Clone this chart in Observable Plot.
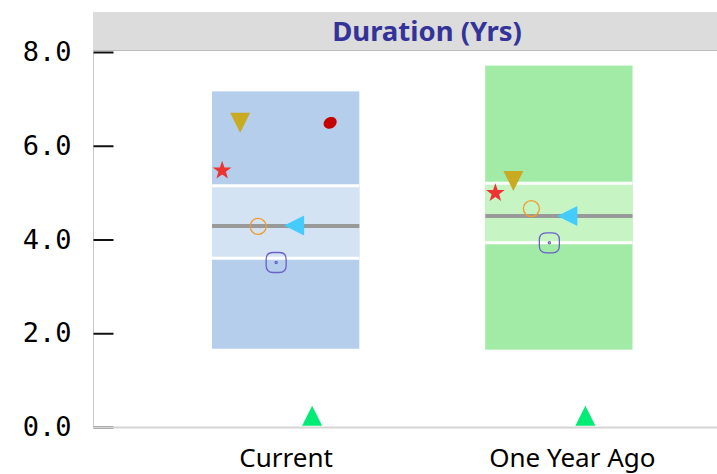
<!DOCTYPE html>
<html>
<head>
<meta charset="utf-8">
<script src="https://cdn.jsdelivr.net/npm/d3@7"></script>
<script src="https://cdn.jsdelivr.net/npm/@observablehq/plot@0.6"></script>
<style>
  body { margin: 0; background: #fff; }
  #wrap { position: relative; width: 717px; height: 474px; }
  #title {
    position: absolute; top: 12px; left: 93px; width: 580px; padding-left: 44px;
    height: 38px; line-height: 40px; background: #dcdcdc; border-bottom: 1px solid #bdbdbd;
    text-align: center; font: bold 27.5px "Noto Sans", sans-serif; color: #333399;
    white-space: nowrap; overflow: visible;
  }
</style>
</head>
<body>
<div id="wrap"></div>
<script>
// ---- data ----
const categories = ["Current", "One Year Ago"];
const boxLow = [1.67, 1.65];
const boxQ1 = [3.61, 3.94];
const boxMedian = [4.30, 4.51];
const boxQ3 = [5.16, 5.21];
const boxHigh = [7.16, 7.71];
const yTicks = [0, 2, 4, 6, 8];
const seriesStar = [5.50, 5.02];
const seriesDownTriangle = [6.50, 5.26];
const seriesCircle = [4.29, 4.67];
const seriesSquare = [3.52, 3.94];
const seriesLeftTriangle = [4.31, 4.51];
const seriesUpTriangle = [0.25, 0.25];
const seriesEllipse = [6.50, null];
const titleText = "Duration (Yrs)";

// ---- styles ----
const outerColors = ["#b4ceec", "#a2eba6"];
const innerColors = ["#d4e3f4", "#c6f4c2"];

const boxes = categories.map((c, i) => ({
  cat: c, low: boxLow[i], q1: boxQ1[i], median: boxMedian[i], q3: boxQ3[i], high: boxHigh[i],
  outer: outerColors[i], inner: innerColors[i]
}));

// ---- custom symbols ----
const poly = pts => ({draw(ctx) {
  ctx.moveTo(pts[0][0], pts[0][1]);
  for (let k = 1; k < pts.length; ++k) ctx.lineTo(pts[k][0], pts[k][1]);
  ctx.closePath();
}});
const symDown = poly([[-10, -10], [10, -10], [0, 10]]);
const symUp = poly([[0, -10], [10, 10], [-10, 10]]);
const symLeft = poly([[-10, 0], [10, -10], [10, 10]]);
const symStar = (() => {
  const R = 9.8, r = R * 0.4, shift = R * (1 - Math.cos(Math.PI / 5)) / 2;
  const pts = d3.range(10).map(k => {
    const a = -Math.PI / 2 + k * Math.PI / 5, rad = k % 2 ? r : R;
    return [rad * Math.cos(a), rad * Math.sin(a) + shift];
  });
  return poly(pts);
})();
const symEllipse = (() => {
  const rx = 6.8, ry = 5.6, t = -Math.PI / 6;
  const pts = d3.range(32).map(k => {
    const a = k / 32 * 2 * Math.PI, x = rx * Math.cos(a), y = ry * Math.sin(a);
    return [x * Math.cos(t) - y * Math.sin(t), x * Math.sin(t) + y * Math.cos(t)];
  });
  return poly(pts);
})();
const symRoundSquare = {draw(ctx) {
  const h = 10, c = 7;
  ctx.moveTo(-h + c, -h); ctx.lineTo(h - c, -h); ctx.quadraticCurveTo(h, -h, h, -h + c);
  ctx.lineTo(h, h - c); ctx.quadraticCurveTo(h, h, h - c, h);
  ctx.lineTo(-h + c, h); ctx.quadraticCurveTo(-h, h, -h, h - c);
  ctx.lineTo(-h, -h + c); ctx.quadraticCurveTo(-h, -h, -h + c, -h); ctx.closePath();
  ctx.moveTo(1.1, 0); ctx.arc(0, 0, 1.1, 0, 2 * Math.PI);
}};
const symTick = {draw(ctx) { ctx.moveTo(0, 0); ctx.lineTo(20, 0); }};

const markerSeries = [
  {values: seriesStar, symbol: symStar, fill: "#ee3333", stroke: "none", dx: -64},
  {values: seriesDownTriangle, symbol: symDown, fill: "#c9ab22", stroke: "none", dx: -46},
  {values: seriesCircle, symbol: "circle", r: 8, fill: "none", stroke: "#f29a2e", strokeWidth: 1.3, dx: -28},
  {values: seriesSquare, symbol: symRoundSquare, fill: "none", stroke: "#6b5fc8", strokeWidth: 1.3, dx: -10},
  {values: seriesLeftTriangle, symbol: symLeft, fill: "#44ccff", stroke: "none", dx: 8},
  {values: seriesUpTriangle, symbol: symUp, fill: "#00ec74", stroke: "none", dx: 26},
  {values: seriesEllipse, symbol: symEllipse, fill: "#c40000", stroke: "none", dx: 44}
];

const markerMarks = markerSeries.map(s => Plot.dot(
  categories.map((c, i) => ({cat: c, v: s.values[i]})),
  {x: "cat", y: "v", symbol: s.symbol, r: s.r || 10, fill: s.fill, stroke: s.stroke,
   strokeWidth: s.strokeWidth || 1, dx: s.dx}
));

const chart = Plot.plot({
  width: 717, height: 474,
  marginLeft: 93, marginRight: 0, marginTop: 52, marginBottom: 47,
  style: {background: "transparent"},
  x: {type: "band", domain: categories, paddingInner: 0.4608, paddingOuter: 0.3724, align: 0.5848, round: false},
  y: {domain: [0, 8]},
  color: {type: "identity"},
  marks: [
    Plot.barY(boxes, {x: "cat", y1: "low", y2: "high", fill: "outer"}),
    Plot.barY(boxes, {x: "cat", y1: "q1", y2: "q3", fill: "inner"}),
    Plot.tickY(boxes, {x: "cat", y: "q1", stroke: "white", strokeWidth: 3}),
    Plot.tickY(boxes, {x: "cat", y: "q3", stroke: "white", strokeWidth: 3}),
    Plot.tickY(boxes, {x: "cat", y: "median", stroke: "#999999", strokeWidth: 4}),
    Plot.frame({anchor: "left", stroke: "#c8c8c8"}),
    Plot.dot(yTicks, {y: d => d, frameAnchor: "left", symbol: symTick, fill: "none", stroke: "#111", strokeWidth: 2}),
    Plot.ruleY([0], {stroke: "#d4d4d4", strokeWidth: 2}),
    Plot.axisY(yTicks, {tickSize: 0, tickPadding: 22, tickFormat: d3.format(".1f"), fontSize: 27,
      fontFamily: "DejaVu Sans Mono", fill: "#000", label: null}),
    Plot.axisX([categories[0]], {tickSize: 0, tickPadding: 21, fontSize: 26, fontFamily: "Noto Sans", fill: "#000", label: null}),
    Plot.axisX([categories[1]], {tickSize: 0, tickPadding: 21, dx: 13, fontSize: 26, fontFamily: "Noto Sans", fill: "#000", label: null}),
    ...markerMarks
  ]
});

const wrap = document.getElementById("wrap");
wrap.appendChild(chart);
const title = document.createElement("div");
title.id = "title";
title.textContent = titleText;
wrap.appendChild(title);
</script>
</body>
</html>
